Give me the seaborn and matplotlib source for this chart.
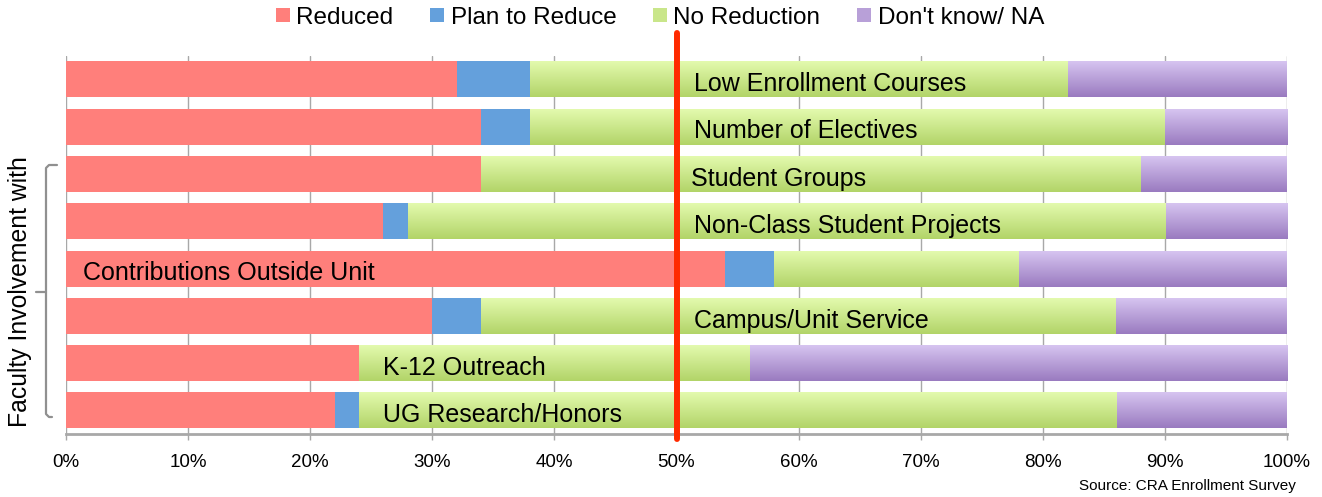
import numpy as np
import pandas as pd
import seaborn as sns
import matplotlib
matplotlib.use("Agg")
import matplotlib.pyplot as plt
from matplotlib.patches import Patch
from matplotlib.lines import Line2D
from matplotlib.colors import LinearSegmentedColormap

# ---------------- data ----------------
categories = ["Low Enrollment Courses", "Number of Electives", "Student Groups",
              "Non-Class Student Projects", "Contributions Outside Unit",
              "Campus/Unit Service", "K-12 Outreach", "UG Research/Honors"]
reduced = [32, 34, 34, 26, 54, 30, 24, 22]
plan_to_reduce = [6, 4, 0, 2, 4, 4, 0, 2]
no_reduction = [44, 52, 54, 62, 20, 52, 32, 62]
dont_know = [18, 10, 12, 10, 22, 14, 44, 14]
series_names = ["Reduced", "Plan to Reduce", "No Reduction", "Don't know/ NA"]
tick_values = [0, 10, 20, 30, 40, 50, 60, 70, 80, 90, 100]
tick_labels = [f"{v}%" for v in tick_values]

# label placement (style, not data)
label_x = [51.4, 51.4, 51.2, 51.4, 1.4, 51.4, 26.0, 26.0]

# ---------------- style ----------------
sns.set_theme(style="white")
plt.rcParams["font.family"] = ["Liberation Sans", "DejaVu Sans"]
plt.rcParams["text.color"] = "black"

RED = "#FF7F7B"
BLUE = "#64A0DC"
GREEN_TOP, GREEN_BOT = "#E3FAAE", "#B2D468"
PURP_TOP, PURP_BOT = "#D6C4F0", "#9A7BC0"
GREEN_MID, PURP_MID = "#C9E68A", "#B8A0D8"

df = pd.DataFrame({
    "category": categories,
    "reduced": reduced,
    "plan": plan_to_reduce,
    "none": no_reduction,
    "dk": dont_know,
})
df["c1"] = df["reduced"]
df["c2"] = df["c1"] + df["plan"]
df["c3"] = df["c2"] + df["none"]
df["c4"] = df["c3"] + df["dk"]

W, H = 1322, 497
fig = plt.figure(figsize=(W / 100, H / 100), dpi=100)
ax_left, ax_right = 66 / W, 1287 / W
ax_bot, ax_top = 1 - 434.1 / H, 1 - 55.8 / H
ax = fig.add_axes([ax_left, ax_bot, ax_right - ax_left, ax_top - ax_bot])

BAR_W = 0.76
for col, colr, z in [("c4", PURP_MID, 2), ("c3", GREEN_MID, 3),
                     ("c2", BLUE, 4), ("c1", RED, 5)]:
    sns.barplot(data=df, x=col, y="category", orient="h", color=colr,
                saturation=1, width=BAR_W, errorbar=None, ax=ax,
                zorder=z, linewidth=0)

# gradient overlays for green and purple segments
grad = np.linspace(0, 1, 64).reshape(-1, 1)
green_cmap = LinearSegmentedColormap.from_list("g", [GREEN_TOP, GREEN_BOT])
purp_cmap = LinearSegmentedColormap.from_list("p", [PURP_TOP, PURP_BOT])
for i in range(len(categories)):
    for x0, x1, cmap, z in [(df["c2"][i], df["c3"][i], green_cmap, 3.5),
                            (df["c3"][i], df["c4"][i], purp_cmap, 2.5)]:
        if x1 - x0 <= 0:
            continue
        ax.imshow(grad, cmap=cmap, aspect="auto", origin="upper",
                  extent=[x0, x1, i + BAR_W / 2, i - BAR_W / 2],
                  interpolation="bilinear", zorder=z)

# category labels inside bars
for i, name in enumerate(categories):
    ax.text(label_x[i], i + 0.1, name, ha="left", va="center",
            fontsize=18, color="black", zorder=8)

ax.set_xlim(0, 100)
ax.set_ylim(len(categories) - 0.5, -0.5)
ax.set_xticks(tick_values)
ax.set_xticklabels(tick_labels, fontsize=13.5)
ax.set_yticks([])
ax.set_xlabel("")
ax.set_ylabel("")
ax.xaxis.grid(True, color="#A8A8A8", linewidth=1)
ax.set_axisbelow(True)
for s in ["top", "right", "left"]:
    ax.spines[s].set_visible(False)
ax.spines["bottom"].set_color("#A8A8A8")
ax.spines["bottom"].set_linewidth(2)
ax.tick_params(axis="x", length=4, width=1, color="#A8A8A8", pad=10,
               bottom=True, labelcolor="black")
ax.set_facecolor("white")

# red 50% line
axh = 434.1 - 55.8
ax.axvline(50, ymin=(434.1 - 439) / axh, ymax=(434.1 - 33) / axh,
           color="#FF2A00", linewidth=4.3, clip_on=False, zorder=10)

# bracket and group label
def fx(px):
    return px / W

def fy(py):
    return 1 - py / H

br_color = "#909090"
fig.add_artist(Line2D([fx(57), fx(49), fx(46), fx(46), fx(49), fx(52)],
                      [fy(165), fy(165), fy(168), fy(414), fy(417), fy(417)],
                      transform=fig.transFigure, color=br_color, lw=1.6,
                      solid_joinstyle="round", solid_capstyle="round"))
fig.add_artist(Line2D([fx(46), fx(36)], [fy(292), fy(292)],
                      transform=fig.transFigure, color=br_color, lw=1.6,
                      solid_capstyle="round"))
fig.text(fx(20), fy(292), "Faculty Involvement with", rotation=90,
         ha="center", va="center", fontsize=17.8, color="black")

# legend
handles = [Patch(facecolor=RED, edgecolor="none"),
           Patch(facecolor=BLUE, edgecolor="none"),
           Patch(facecolor=GREEN_MID, edgecolor="none"),
           Patch(facecolor=PURP_MID, edgecolor="none")]
fig.legend(handles, series_names, loc="center", ncol=4,
           bbox_to_anchor=(fx(660), fy(18)), frameon=False, fontsize=17.5,
           handlelength=0.58, handleheight=0.5, handletextpad=0.25,
           columnspacing=1.52, borderpad=0, borderaxespad=0,
           labelcolor="black")

fig.text(fx(1296), fy(486), "Source: CRA Enrollment Survey", ha="right",
         va="center", fontsize=11, color="black")

fig.savefig("out.png", dpi=100)
